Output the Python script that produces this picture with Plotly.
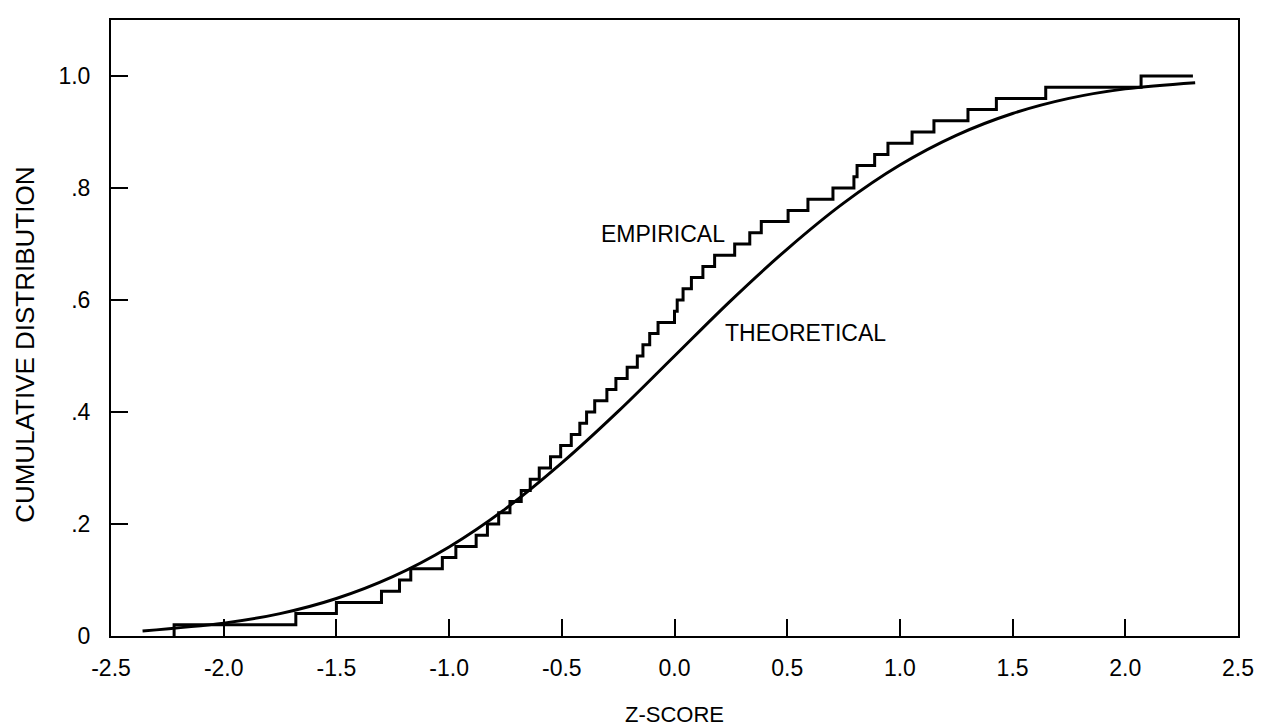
import plotly.graph_objects as go

# ---- data ----
# empirical CDF: z-score positions of each rise and the level reached there
emp_rise_x = [-2.22, -1.68, -1.50, -1.30, -1.22, -1.17, -1.03, -0.97, -0.88, -0.83,
              -0.78, -0.73, -0.68, -0.64, -0.60, -0.55, -0.505, -0.458, -0.42, -0.39,
              -0.354, -0.30, -0.26, -0.21, -0.165, -0.14, -0.11, -0.073, 0.00, 0.012,
              0.038, 0.075, 0.126, 0.178, 0.267, 0.334, 0.385, 0.504, 0.592, 0.703,
              0.796, 0.81, 0.888, 0.947, 1.054, 1.151, 1.302, 1.428, 1.647, 2.07]
emp_levels = [0.02, 0.04, 0.06, 0.08, 0.10, 0.12, 0.14, 0.16, 0.18, 0.20,
              0.22, 0.24, 0.26, 0.28, 0.30, 0.32, 0.34, 0.36, 0.38, 0.40,
              0.42, 0.44, 0.46, 0.48, 0.50, 0.52, 0.54, 0.56, 0.58, 0.60,
              0.62, 0.64, 0.66, 0.68, 0.70, 0.72, 0.74, 0.76, 0.78, 0.80,
              0.82, 0.84, 0.86, 0.88, 0.90, 0.92, 0.94, 0.96, 0.98, 1.00]
emp_end_x = 2.30

# theoretical curve
theo_x = [-2.36, -2.0, -1.75, -1.5, -1.25, -1.0, -0.75, -0.5, -0.25, 0.0,
          0.25, 0.5, 0.75, 1.0, 1.25, 1.5, 1.75, 2.0, 2.31]
theo_y = [0.009, 0.023, 0.040, 0.067, 0.106, 0.159, 0.227, 0.309, 0.401, 0.500,
          0.599, 0.691, 0.773, 0.841, 0.894, 0.933, 0.960, 0.977, 0.988]

x_ticks = [-2.5, -2.0, -1.5, -1.0, -0.5, 0.0, 0.5, 1.0, 1.5, 2.0, 2.5]
x_tick_text = ["-2.5", "-2.0", "-1.5", "-1.0", "-0.5", "0.0", "0.5", "1.0", "1.5", "2.0", "2.5"]
y_ticks = [0, 0.2, 0.4, 0.6, 0.8, 1.0]
y_tick_text = ["0", ".2", ".4", ".6", ".8", "1.0"]

FONT = "Liberation Sans, Arial, Helvetica, sans-serif"
FS = 23

# build the step path (hv) from the rise positions
ex = [emp_rise_x[0]] + emp_rise_x + [emp_end_x]
ey = [0.0] + emp_levels + [emp_levels[-1]]

fig = go.Figure()
fig.add_trace(go.Scatter(x=theo_x, y=theo_y, mode="lines",
                         line=dict(color="black", width=3, shape="spline", smoothing=1.0),
                         name="THEORETICAL", showlegend=False, hoverinfo="skip"))
fig.add_trace(go.Scatter(x=ex, y=ey, mode="lines",
                         line=dict(color="black", width=3, shape="hv"),
                         name="EMPIRICAL", showlegend=False, hoverinfo="skip"))

fig.add_annotation(x=-0.335, y=0.717, text="EMPIRICAL", showarrow=False,
                   xanchor="left", yanchor="middle", font=dict(family=FONT, size=23, color="black"))
fig.add_annotation(x=0.215, y=0.541, text="THEORETICAL", showarrow=False,
                   xanchor="left", yanchor="middle", font=dict(family=FONT, size=23, color="black"))

# axis titles
fig.add_annotation(xref="paper", yref="paper", x=-0.077, y=0.473, text="CUMULATIVE DISTRIBUTION",
                   textangle=-90, showarrow=False, xanchor="center", yanchor="middle",
                   font=dict(family=FONT, size=26, color="black"))
fig.add_annotation(xref="paper", yref="paper", x=0.5, y=-0.128, text="Z-SCORE",
                   showarrow=False, xanchor="center", yanchor="middle",
                   font=dict(family=FONT, size=22, color="black"))

fig.update_layout(
    width=1264, height=728,
    margin=dict(l=103, r=34, t=10, b=100),
    paper_bgcolor="white", plot_bgcolor="white",
    font=dict(family=FONT, size=FS, color="black"),
    xaxis=dict(range=[-2.5, 2.5], tickvals=x_ticks, ticktext=x_tick_text,
               ticks="inside", ticklen=17, tickwidth=2, tickcolor="black",
               ticklabelstandoff=10,
               showline=True, linecolor="black", linewidth=2, mirror=True,
               showgrid=False, zeroline=False),
    yaxis=dict(range=[0, 1.1], tickvals=y_ticks, ticktext=y_tick_text,
               ticks="inside", ticklen=17, tickwidth=2, tickcolor="black",
               ticklabelstandoff=14,
               showline=True, linecolor="black", linewidth=2, mirror=True,
               showgrid=False, zeroline=False),
)

fig.write_html("out.html")
